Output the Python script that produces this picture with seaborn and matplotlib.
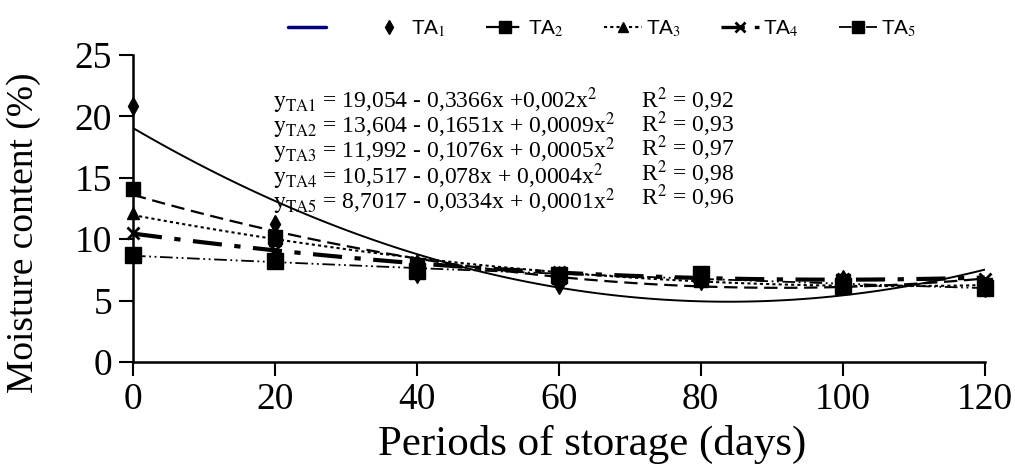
import matplotlib
matplotlib.use('Agg')
import matplotlib.pyplot as plt
import seaborn as sns
import pandas as pd
from matplotlib.lines import Line2D

# storage periods (days) and measured moisture content (%) per treatment
days = [0, 20, 40, 60, 80, 100, 120]
ta1 = [20.8, 11.2, 7.2, 6.3, 6.6, 6.8, 6.0]
ta2 = [14.1, 10.2, 7.9, 6.9, 6.7, 6.6, 6.3]
ta3 = [12.1, 9.9, 8.3, 7.3, 6.7, 6.4, 6.1]
ta4 = [10.5, 9.1, 7.9, 7.3, 6.9, 6.8, 6.8]
ta5 = [8.7, 8.2, 7.4, 7.1, 7.2, 6.2, 6.0]

series = ["TA1", "TA2", "TA3", "TA4", "TA5"]
labels = ["TA$_1$", "TA$_2$", "TA$_3$", "TA$_4$", "TA$_5$"]
equations = [
    r"$\mathrm{y}_{\mathrm{TA1}}$ = 19,054 - 0,3366x +0,002x$^2$",
    r"$\mathrm{y}_{\mathrm{TA2}}$ = 13,604 - 0,1651x + 0,0009x$^2$",
    r"$\mathrm{y}_{\mathrm{TA3}}$ = 11,992 - 0,1076x + 0,0005x$^2$",
    r"$\mathrm{y}_{\mathrm{TA4}}$ = 10,517 - 0,078x + 0,0004x$^2$",
    r"$\mathrm{y}_{\mathrm{TA5}}$ = 8,7017 - 0,0334x + 0,0001x$^2$",
]
r2_values = ["0,92", "0,93", "0,97", "0,98", "0,96"]

df = pd.DataFrame({"days": days, "TA1": ta1, "TA2": ta2, "TA3": ta3, "TA4": ta4, "TA5": ta5})

sns.set_style("white")
plt.rcParams['font.family'] = ['Liberation Serif', 'DejaVu Serif']
plt.rcParams['mathtext.fontset'] = 'stix'
plt.rcParams.update({'text.color': 'black', 'axes.labelcolor': 'black',
                     'xtick.color': 'black', 'ytick.color': 'black'})

styles = [
    dict(ls='-', lw=1.4, marker='d', ms=9),
    dict(ls=(0, (6, 3)), lw=1.6, marker='s', ms=10),
    dict(ls=(0, (1.5, 1.5)), lw=1.5, marker='^', ms=9),
    dict(ls=(0, (7, 3, 1.5, 3)), lw=3.0, marker='x', ms=8),
    dict(ls=(0, (7, 2, 1, 2, 1, 2)), lw=1.3, marker='s', ms=11),
]

fig = plt.figure(figsize=(10.15, 4.69), dpi=100)
ax = fig.add_axes([0.131, 0.228, 0.839, 0.655])

for col, st in zip(series, styles):
    # quadratic trend line fitted by seaborn
    sns.regplot(data=df, x="days", y=col, order=2, ci=None, scatter=False, ax=ax,
                line_kws=dict(color='black', linestyle=st['ls'], linewidth=st['lw']))
    ax.plot(df["days"], df[col], linestyle='none', marker=st['marker'], ms=st['ms'],
            color='black', mew=2 if st['marker'] == 'x' else 1, clip_on=False, zorder=5)

ax.set_xlim(0, 120)
ax.set_ylim(0, 25)
ax.set_xticks(range(0, 121, 20))
ax.set_yticks(range(0, 26, 5))
ax.tick_params(axis='both', labelsize=27, direction='out', length=10, width=1.5, pad=5,
               left=True, bottom=True, colors='black')
for side in ['top', 'right']:
    ax.spines[side].set_visible(False)
for side in ['left', 'bottom']:
    ax.spines[side].set_color('black')
    ax.spines[side].set_linewidth(1.8)
ax.set_xlabel("Periods of storage (days)", fontsize=31)
ax.set_ylabel("Moisture content (%)", fontsize=27)
ax.xaxis.set_label_coords(0.539, -0.205)
ax.yaxis.set_label_coords(-0.108, 0.42)

# regression equations, one block per column
ax.text(0.165, 0.9, "\n".join(equations), transform=ax.transAxes, fontsize=17,
        va='top', ha='left', linespacing=0.76)
ax.text(0.597, 0.9, "\n".join("R$^2$ = " + r for r in r2_values), transform=ax.transAxes,
        fontsize=17, va='top', ha='left', linespacing=0.76)

# legend: a bare navy line entry, a marker-only TA1 entry, then line+marker entries
handles = [Line2D([], [], color='navy', lw=2.5)]
labs = [""]
handles.append(Line2D([], [], linestyle='none', marker='d', ms=7, color='black'))
labs.append(labels[0])
for st, lab in zip(styles[1:], labels[1:]):
    handles.append(Line2D([], [], color='black', linestyle=st['ls'], linewidth=min(st['lw'], 2.4),
                          marker=st['marker'], ms=st['ms'] * 0.85, mew=2 if st['marker'] == 'x' else 1))
    labs.append(lab)
fig.legend(handles, labs, loc='upper left', bbox_to_anchor=(0.265, 1.0), ncol=6,
           frameon=False, handlelength=1.82, columnspacing=1.92, handletextpad=0.19,
           prop={'family': 'Liberation Sans', 'size': 15})

fig.savefig("out.png", dpi=100)
